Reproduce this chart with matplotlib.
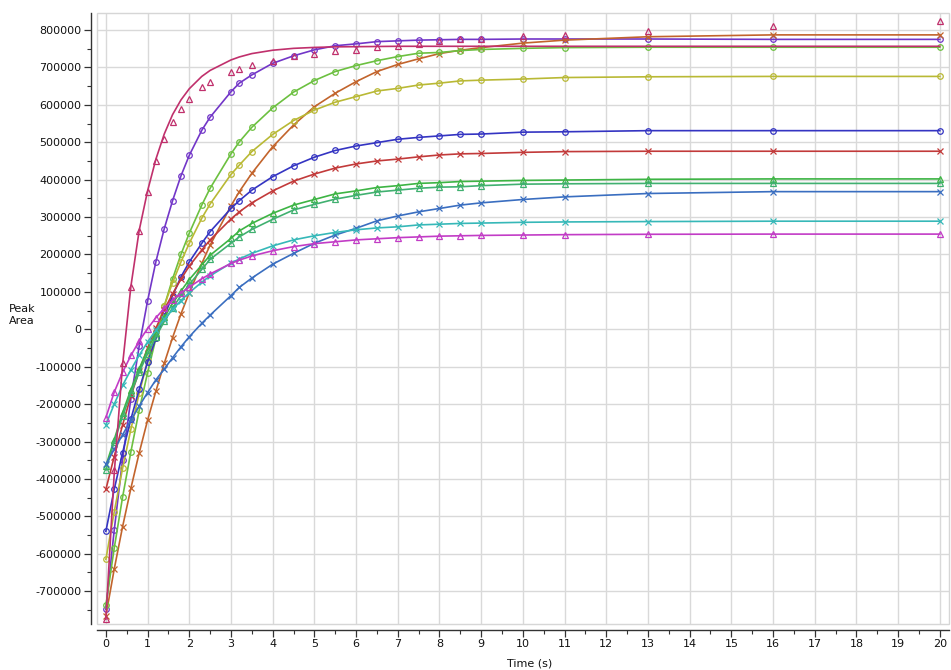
import matplotlib
matplotlib.use("Agg")
import matplotlib.pyplot as plt
from matplotlib.ticker import MultipleLocator
from matplotlib.patches import Rectangle

plt.rcParams['font.family'] = ['DejaVu Sans']
plt.rcParams['axes.unicode_minus'] = False

time_s = [0, 0.2, 0.4, 0.6, 0.8, 1.0, 1.2, 1.4, 1.6, 1.8, 2.0, 2.3, 2.5, 3.0, 3.2, 3.5,
          4.0, 4.5, 5.0, 5.5, 6.0, 6.5, 7.0, 7.5, 8.0, 8.5, 9.0, 10, 11, 13, 16, 20]

crimson_pts = [-775000, -376000, -91000, 114000, 264000, 368000, 451000, 508000, 554000, 589000,
               616000, 647000, 661000, 689000, 697000, 706000, 718000, 731000, 737000, 744000,
               747000, 755000, 758000, 762000, 771000, 775000, 775000, 784000, 788000, 797000,
               811000, 825000]
crimson_fit = [-775000, -385000, -95000, 115000, 265000, 370000, 455000, 522000, 574000, 613000,
               643000, 676000, 692000, 720000, 728000, 737000, 746000, 751000, 753500, 755000,
               755500, 756000, 756500, 756500, 756500, 756500, 756500, 756500, 756500, 756500,
               756500, 756500]
purple = [-748000, -537000, -349000, -185000, -44000, 76000, 181000, 269000, 344000, 410000,
          465000, 532000, 567000, 635000, 658000, 680000, 711000, 731000, 747000, 758000,
          763000, 769000, 771000, 773000, 774000, 775000, 775000, 776000, 776000, 776000,
          775000, 775000]
brown = [-766000, -641000, -528000, -425000, -330000, -243000, -165000, -91000, -22000, 41000,
         98000, 176000, 225000, 330000, 368000, 417000, 488000, 546000, 595000, 631000,
         662000, 689000, 708000, 723000, 737000, 746000, 753000, 765000, 773000, 782000,
         787000, 787000]
green_circ = [-738000, -585000, -449000, -327000, -216000, -116000, -24000, 62000, 135000, 200000,
              257000, 332000, 377000, 469000, 501000, 540000, 592000, 634000, 665000, 689000,
              705000, 718000, 729000, 738000, 740000, 745000, 748000, 751000, 753000, 754000,
              754000, 754000]
yellow = [-615000, -488000, -372000, -267000, -171000, -84000, -6000, 63000, 125000, 180000,
          230000, 297000, 335000, 414000, 439000, 475000, 521000, 558000, 586000, 607000,
          622000, 637000, 644000, 653000, 658000, 664000, 666000, 669000, 673000, 675000,
          676000, 676000]
dark_blue = [-540000, -428000, -330000, -240000, -160000, -88000, -24000, 35000, 90000, 140000,
             180000, 230000, 261000, 323000, 344000, 372000, 408000, 437000, 460000, 478000,
             490000, 499000, 508000, 513000, 517000, 521000, 522000, 527000, 528000, 531000,
             531000, 531000]
red_x = [-428000, -340000, -256000, -178000, -111000, -50000, 3000, 52000, 95000, 134000,
         169000, 212000, 239000, 295000, 314000, 338000, 370000, 396000, 415000, 431000,
         442000, 450000, 455000, 461000, 466000, 469000, 470000, 473000, 475000, 476000,
         476000, 476000]
green_tri_a = [-365000, -295000, -223000, -161000, -105000, -54000, -9000, 32000, 69000, 102000,
               133000, 172000, 198000, 243000, 263000, 283000, 310000, 332000, 347000, 362000,
               370000, 379000, 384000, 390000, 392000, 395000, 396000, 398000, 399000, 401000,
               402000, 402000]
green_tri_b = [-376000, -301000, -233000, -171000, -115000, -65000, -20000, 21000, 57000, 90000,
               120000, 160000, 187000, 230000, 247000, 267000, 294000, 319000, 334000, 348000,
               358000, 367000, 372000, 377000, 380000, 381000, 384000, 388000, 389000, 390000,
               390000, 390000]
steel_x = [-361000, -321000, -282000, -243000, -205000, -169000, -135000, -106000, -76000, -47000,
           -20000, 16000, 38000, 90000, 112000, 137000, 174000, 203000, 230000, 252000,
           270000, 290000, 303000, 314000, 323000, 332000, 338000, 347000, 354000, 363000,
           368000, 368000]
cyan_x = [-255000, -200000, -150000, -108000, -69000, -34000, -2000, 27000, 53000, 77000,
          98000, 126000, 143000, 177000, 188000, 203000, 223000, 239000, 250000, 259000,
          266000, 271000, 274000, 279000, 281000, 283000, 284000, 286000, 287000, 288000,
          289000, 289000]
magenta_tri = [-236000, -168000, -115000, -70000, -31000, 2000, 31000, 56000, 78000, 97000,
               113000, 135000, 148000, 176000, 185000, 196000, 210000, 221000, 229000, 234000,
               239000, 242000, 245000, 247000, 249000, 250000, 251000, 252000, 253000, 254000,
               254500, 254500]

y_ticks = list(range(-700000, 800001, 100000))
x_ticks = list(range(0, 21))

W, H = 951, 670
fig = plt.figure(figsize=(W / 100, H / 100), dpi=100)
ax = fig.add_axes([96.7 / W, 1 - 624 / H, (949 - 96.7) / W, (624 - 13) / H])

series = [
    (purple, '#7236C8', 'o'),
    (brown, '#C2642C', 'x'),
    (green_circ, '#6CC040', 'o'),
    (yellow, '#B9B935', 'o'),
    (dark_blue, '#3434C2', 'o'),
    (red_x, '#C23A3A', 'x'),
    (green_tri_a, '#3DB444', '^'),
    (green_tri_b, '#40B070', '^'),
    (steel_x, '#3A6EC0', 'x'),
    (cyan_x, '#36B8B8', 'x'),
    (magenta_tri, '#C23CC6', '^'),
]
for vals, col, mk in series:
    ax.plot(time_s, vals, color=col, lw=1.2, marker=mk, ms=4 if mk != 'x' else 4.5,
            mfc='none', mec=col, mew=0.9, zorder=3)

ax.plot(time_s, crimson_fit, color='#C0306C', lw=1.2, zorder=3)
ax.plot(time_s, crimson_pts, ls='none', marker='^', ms=4, mfc='none', mec='#C0306C',
        mew=0.9, zorder=3)

ax.set_xlim(-0.22, 20.22)
ax.set_ylim(-787700, 845500)
ax.set_xticks(x_ticks)
ax.set_yticks(y_ticks)
ax.xaxis.set_minor_locator(MultipleLocator(0.5))
ax.yaxis.set_minor_locator(MultipleLocator(50000))
ax.grid(True, which='major', color='#d9d9d9', lw=1.0, zorder=0)
ax.set_axisbelow(True)

for s in ['top', 'right']:
    ax.spines[s].set_visible(False)
for s in ['left', 'bottom']:
    ax.spines[s].set_position(('outward', 4))
    ax.spines[s].set_color('#333333')
    ax.spines[s].set_linewidth(1.0)
ax.add_patch(Rectangle((0, 0), 1, 1, transform=ax.transAxes, fill=False,
                       ec='#d6d6d6', lw=1.0, clip_on=False, zorder=1))

ax.tick_params(axis='both', which='major', length=5, width=0.9, color='#333333',
               labelsize=8, labelcolor='#111111', pad=2)
ax.tick_params(axis='both', which='minor', length=3, width=0.8, color='#333333')
ax.set_yticklabels([str(v) for v in y_ticks])

fig.text(22 / W, 1 - 315 / H, 'Peak\nArea', ha='center', va='center', fontsize=8,
         color='#111111', linespacing=1.2)
fig.text(530 / W, 1 - 663 / H, 'Time (s)', ha='center', va='center', fontsize=8,
         color='#111111')

fig.savefig('out.png', dpi=100)
